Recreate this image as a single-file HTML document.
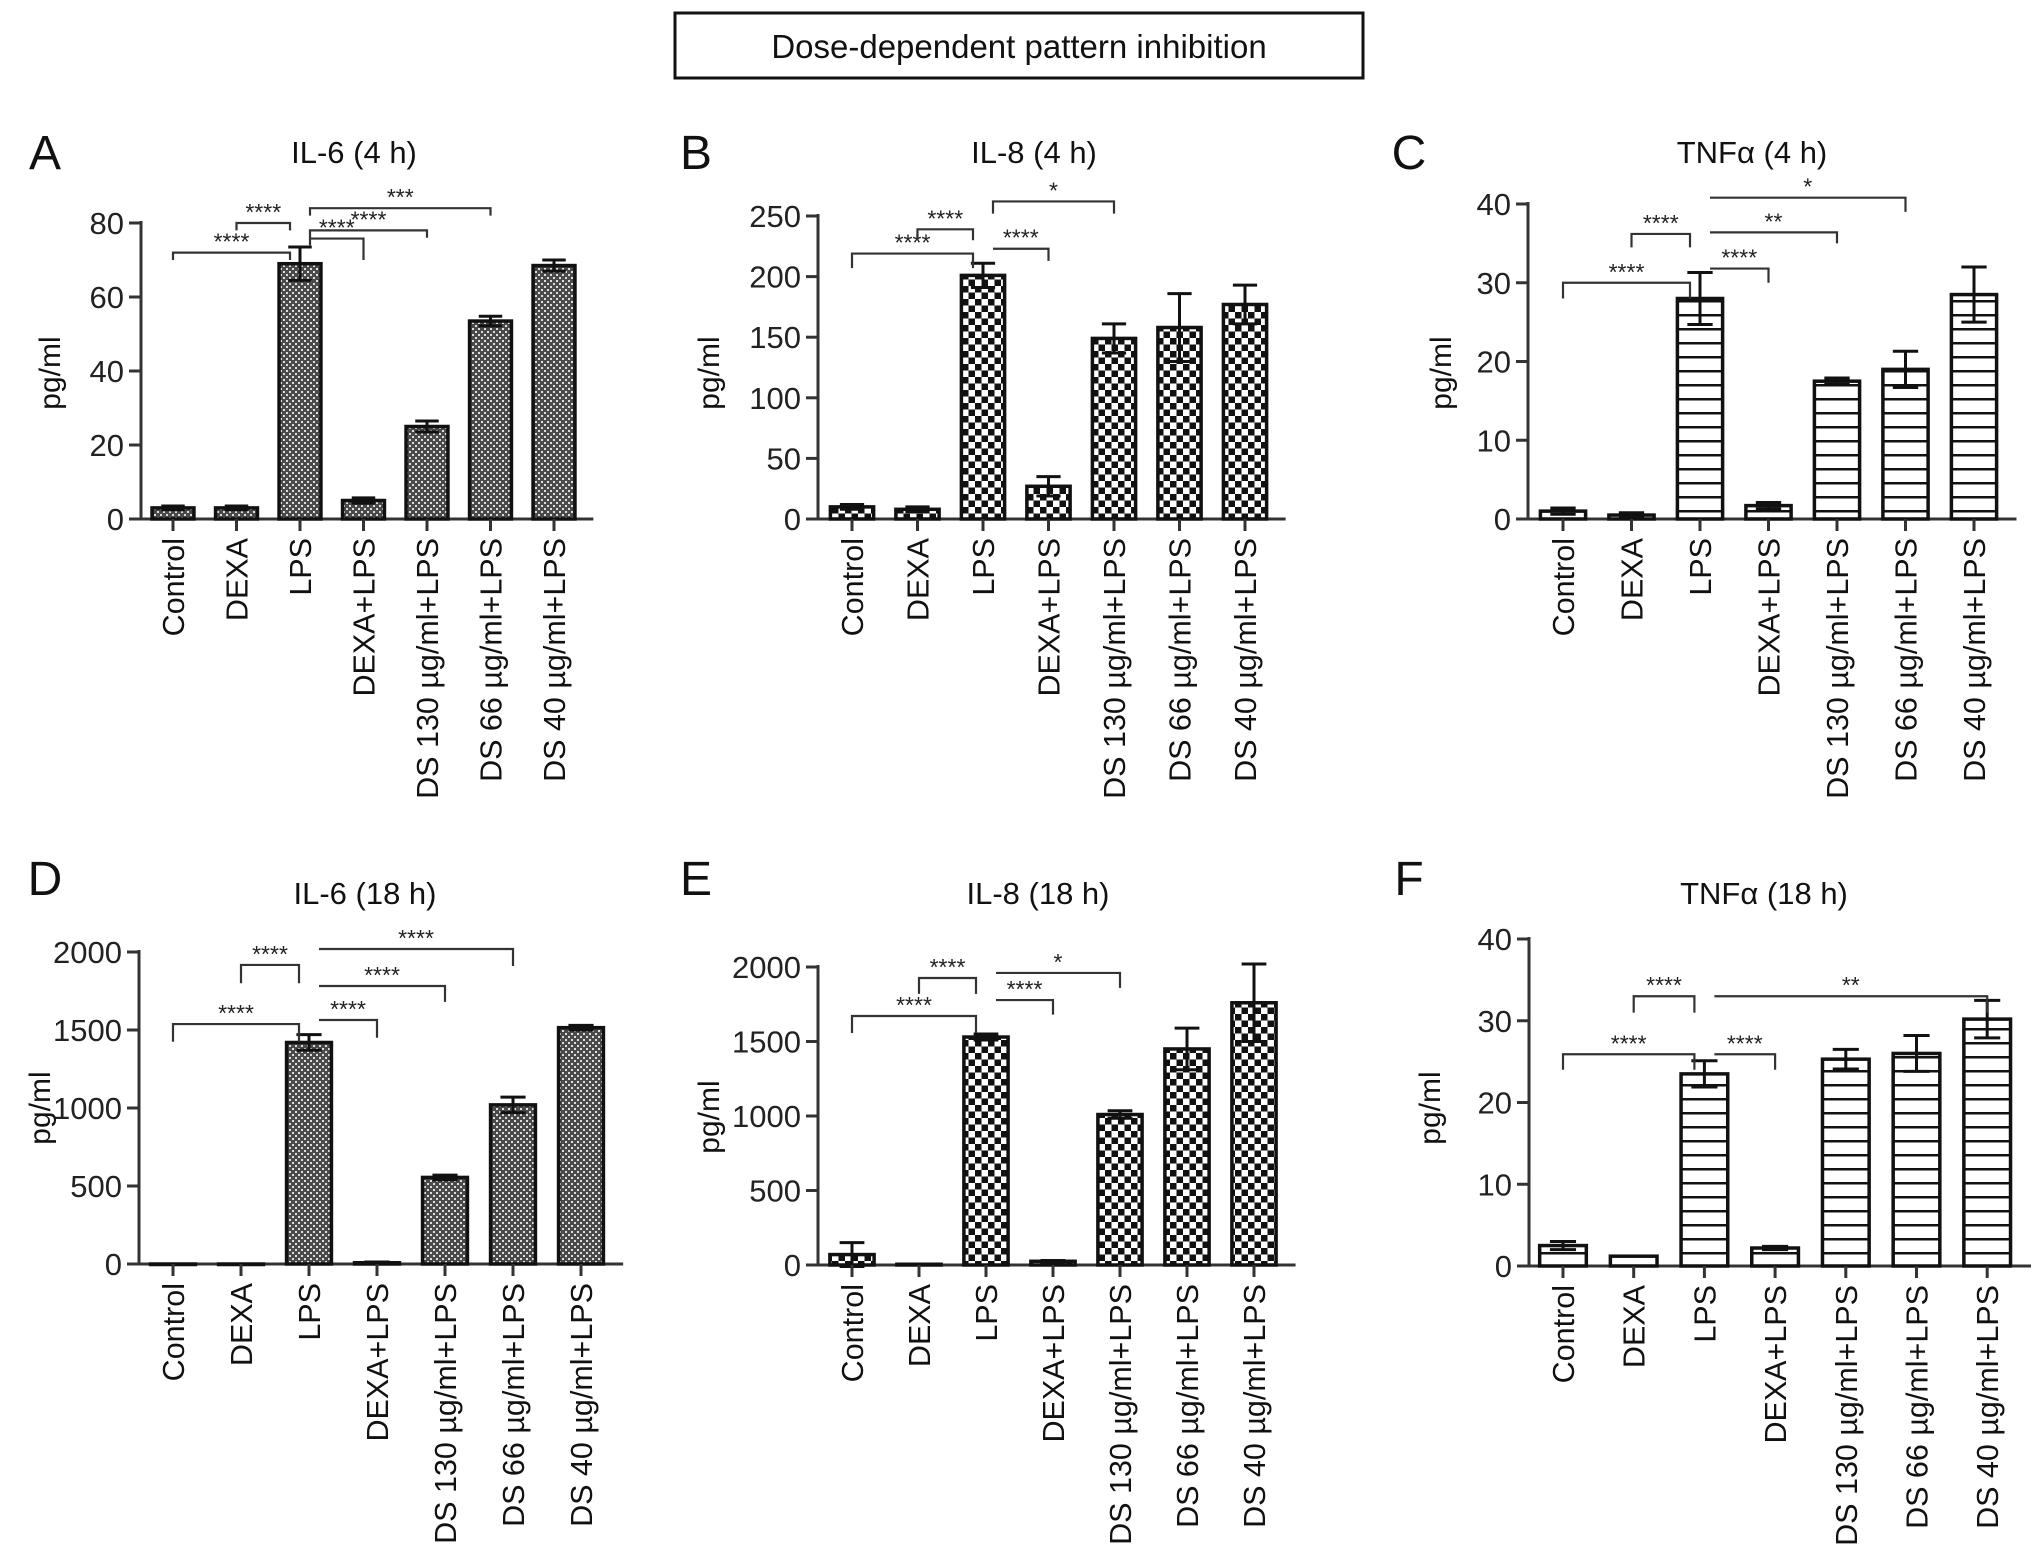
<!DOCTYPE html>
<html><head><meta charset="utf-8"><style>
html,body{margin:0;padding:0;background:#fff;}
svg{display:block;font-family:"Liberation Sans",Arial,sans-serif;}
</style></head><body>
<svg id="fig" width="2032" height="1564" viewBox="0 0 2032 1564" xmlns="http://www.w3.org/2000/svg">
<defs>
<pattern id="pFine" width="6" height="6" patternUnits="userSpaceOnUse"><rect width="6" height="6" fill="#4a4a4a"/><rect x="1" y="1" width="2" height="2" fill="#ddd"/><rect x="4" y="4" width="2" height="2" fill="#ddd"/></pattern>
<pattern id="pCheck" width="13" height="13" patternUnits="userSpaceOnUse"><rect width="13" height="13" fill="#fff"/><rect width="6.5" height="6.5" fill="#111"/><rect x="6.5" y="6.5" width="6.5" height="6.5" fill="#111"/></pattern>
<pattern id="pLines" width="14" height="14" patternUnits="userSpaceOnUse"><rect width="14" height="14" fill="#fff"/><rect y="6" width="14" height="2.5" fill="#111"/></pattern>
</defs>
<rect x="675" y="13" width="688" height="65" fill="#fff" stroke="#111" stroke-width="3"/>
<text x="1019" y="58" font-size="33" text-anchor="middle" fill="#111">Dose-dependent pattern inhibition</text>
</svg>
<script>
const categories = ["Control","DEXA","LPS","DEXA+LPS","DS 130 µg/ml+LPS","DS 66 µg/ml+LPS","DS 40 µg/ml+LPS"];
const valsA = [3, 3, 69, 5, 25, 53.5, 68.5];
const errA  = [0.5, 0.5, 4.5, 0.7, 1.5, 1.3, 1.5];
const valsB = [10, 8, 201, 27, 149, 158, 177];
const errB  = [2, 2, 10, 8, 12, 28, 16];
const valsC = [1, 0.5, 28, 1.7, 17.5, 19, 28.5];
const errC  = [0.4, 0.3, 3.3, 0.4, 0.4, 2.3, 3.5];
const valsD = [0, 0, 1420, 8, 555, 1020, 1515];
const errD  = [0, 0, 50, 5, 15, 50, 15];
const valsE = [70, 5, 1530, 25, 1010, 1450, 1760];
const errE  = [80, 0, 20, 5, 25, 140, 260];
const valsF = [2.5, 1.2, 23.5, 2.2, 25.3, 26, 30.2];
const errF  = [0.5, 0, 1.6, 0.2, 1.2, 2.2, 2.3];
const ticksA = [0,20,40,60,80];
const ticksB = [0,50,100,150,200,250];
const ticksC = [0,10,20,30,40];
const ticksD = [0,500,1000,1500,2000];
const ticksE = [0,500,1000,1500,2000];
const ticksF = [0,10,20,30,40];
// brackets: [fromIndex, toIndex, level, leftDrop, rightDrop, label]
const brA = [[0,2,72,70,70,"****"],[1,2,80,78,78,"****"],[2,3,75.8,74,70,"****"],[2,4,78,76,76,"****"],[2,5,84,82,82,"***"]];
const brB = [[0,2,219,207,207,"****"],[1,2,239,230,230,"****"],[2,3,223,223,213,"****"],[2,4,262,252,252,"*"]];
const brC = [[0,2,30,28,28,"****"],[1,2,36.2,34.5,34.5,"****"],[2,3,31.8,31.8,30,"****"],[2,4,36.4,36.4,35,"**"],[2,5,40.8,40.8,39,"*"]];
const brD = [[0,2,1538,1425,1425,"****"],[1,2,1917,1800,1800,"****"],[2,3,1564,1564,1450,"****"],[2,4,1782,1782,1680,"****"],[2,5,2019,2019,1910,"****"]];
const brE = [[0,2,1671,1557,1557,"****"],[1,2,1926,1820,1820,"****"],[2,3,1778,1778,1680,"****"],[2,4,1960,1960,1860,"*"]];
const brF = [[0,2,25.9,24,24,"****"],[1,2,33,31,31,"****"],[2,3,25.9,25.9,24,"****"],[2,6,33,33,31,"**"]];

const panels = [
 {id:"a",letter:"A",title:"IL-6 (4 h)",lx:45,ly:169,tx:354,ty:163,ax:141,y0:519,yT:223,max:80,ticks:ticksA,vals:valsA,err:errA,br:brA,c0:173,sp:63.5,fill:"url(#pFine)",ylx:60,yly:373},
 {id:"b",letter:"B",title:"IL-8 (4 h)",lx:696,ly:169,tx:1034,ty:163,ax:818,y0:519,yT:216,max:250,ticks:ticksB,vals:valsB,err:errB,br:brB,c0:852,sp:65.5,fill:"url(#pCheck)",ylx:719,yly:373},
 {id:"c",letter:"C",title:"TNFα (4 h)",lx:1409,ly:169,tx:1752,ty:163,ax:1528,y0:519,yT:204,max:40,ticks:ticksC,vals:valsC,err:errC,br:brC,c0:1563,sp:68.5,fill:"url(#pLines)",ylx:1451,yly:373},
 {id:"d",letter:"D",title:"IL-6 (18 h)",lx:45,ly:895,tx:365,ty:904,ax:139,y0:1264,yT:952,max:2000,ticks:ticksD,vals:valsD,err:errD,br:brD,c0:173,sp:68,fill:"url(#pFine)",ylx:50,yly:1108},
 {id:"e",letter:"E",title:"IL-8 (18 h)",lx:696,ly:895,tx:1038,ty:904,ax:818,y0:1265,yT:967,max:2000,ticks:ticksE,vals:valsE,err:errE,br:brE,c0:852,sp:67,fill:"url(#pCheck)",ylx:719,yly:1117},
 {id:"f",letter:"F",title:"TNFα (18 h)",lx:1409,ly:895,tx:1764,ty:904,ax:1529,y0:1266,yT:939,max:40,ticks:ticksF,vals:valsF,err:errF,br:brF,c0:1563,sp:70.7,fill:"url(#pLines)",ylx:1440,yly:1108}
];
const NS="http://www.w3.org/2000/svg";
const svg=document.getElementById("fig");
function mk(tag,attrs,parent){const e=document.createElementNS(NS,tag);for(const k in attrs)e.setAttribute(k,attrs[k]);(parent||svg).appendChild(e);return e;}
panels.forEach(p=>{
 const g=mk("g",{});
 
 
 const yS=v=>p.y0-(v/p.max)*(p.y0-p.yT);
 const xS=i=>p.c0+i*p.sp;
 const bw=p.sp*0.66;
 const L=mk("text",{x:p.lx,y:p.ly,"font-size":48,"text-anchor":"middle",fill:"#111"},g);L.textContent=p.letter;
 
 
 const T=mk("text",{x:p.tx,y:p.ty,"font-size":31,"text-anchor":"middle",fill:"#111"},g);T.textContent=p.title;
 
 
 const Y=mk("text",{x:p.ylx,y:p.yly,"font-size":30,"text-anchor":"middle",fill:"#111",transform:`rotate(-90 ${p.ylx} ${p.yly})`},g);Y.textContent="pg/ml";
 
 
 const right=xS(6)+p.sp*0.62;
 const ya=mk("line",{x1:p.ax,y1:yS(p.max)-2,x2:p.ax,y2:p.y0,stroke:"#333","stroke-width":3},g);
 
 
 const xa=mk("line",{x1:p.ax-12,y1:p.y0,x2:right,y2:p.y0,stroke:"#333","stroke-width":3},g);
 
 
 p.ticks.forEach(t=>{
  const tl=mk("line",{x1:p.ax-12,y1:yS(t),x2:p.ax,y2:yS(t),stroke:"#333","stroke-width":3},g);
  
  
  const tt=mk("text",{x:p.ax-17,y:yS(t)+11,"font-size":31,"text-anchor":"end",fill:"#222"},g);tt.textContent=t;
  
  
 });
 categories.forEach((c,i)=>{
  const x=xS(i),v=p.vals[i],e=p.err[i];
  const top=yS(v);
  const r=mk("rect",{x:x-bw/2,y:top,width:bw,height:Math.max(p.y0-top,0.5),fill:p.fill,stroke:"#111","stroke-width":3.5},g);
  
  
  if(e>0){
   const eb=mk("path",{d:`M${x} ${yS(v-e)}V${yS(v+e)}M${x-bw*0.28} ${yS(v+e)}H${x+bw*0.28}M${x-bw*0.28} ${yS(v-e)}H${x+bw*0.28}`,stroke:"#111","stroke-width":3,fill:"none"},g);
   
   
  }
  const xt=mk("line",{x1:x,y1:p.y0,x2:x,y2:p.y0+12,stroke:"#333","stroke-width":3},g);
  
  
  const cl=mk("text",{x:x,y:p.y0+19,"font-size":30.5,"text-anchor":"end",fill:"#111",transform:`rotate(-90 ${x} ${p.y0+19})`,dy:11},g);
  cl.textContent=c;
  
  
 });
 p.br.forEach(b=>{
  const x1=xS(b[0])+(b[0]===2?10:0), x2=xS(b[1])-(b[1]===2?10:0);
  const y=yS(b[2]);
  const bp=mk("path",{d:`M${x1} ${yS(b[3])}V${y}H${x2}V${yS(b[4])}`,stroke:"#333","stroke-width":2.2,fill:"none"},g);
  
  
  const st=mk("text",{x:(x1+x2)/2,y:y-3,"font-size":23,"text-anchor":"middle",fill:"#222"},g);st.textContent=b[5];
  
  
 });
});
</script>
</body></html>
